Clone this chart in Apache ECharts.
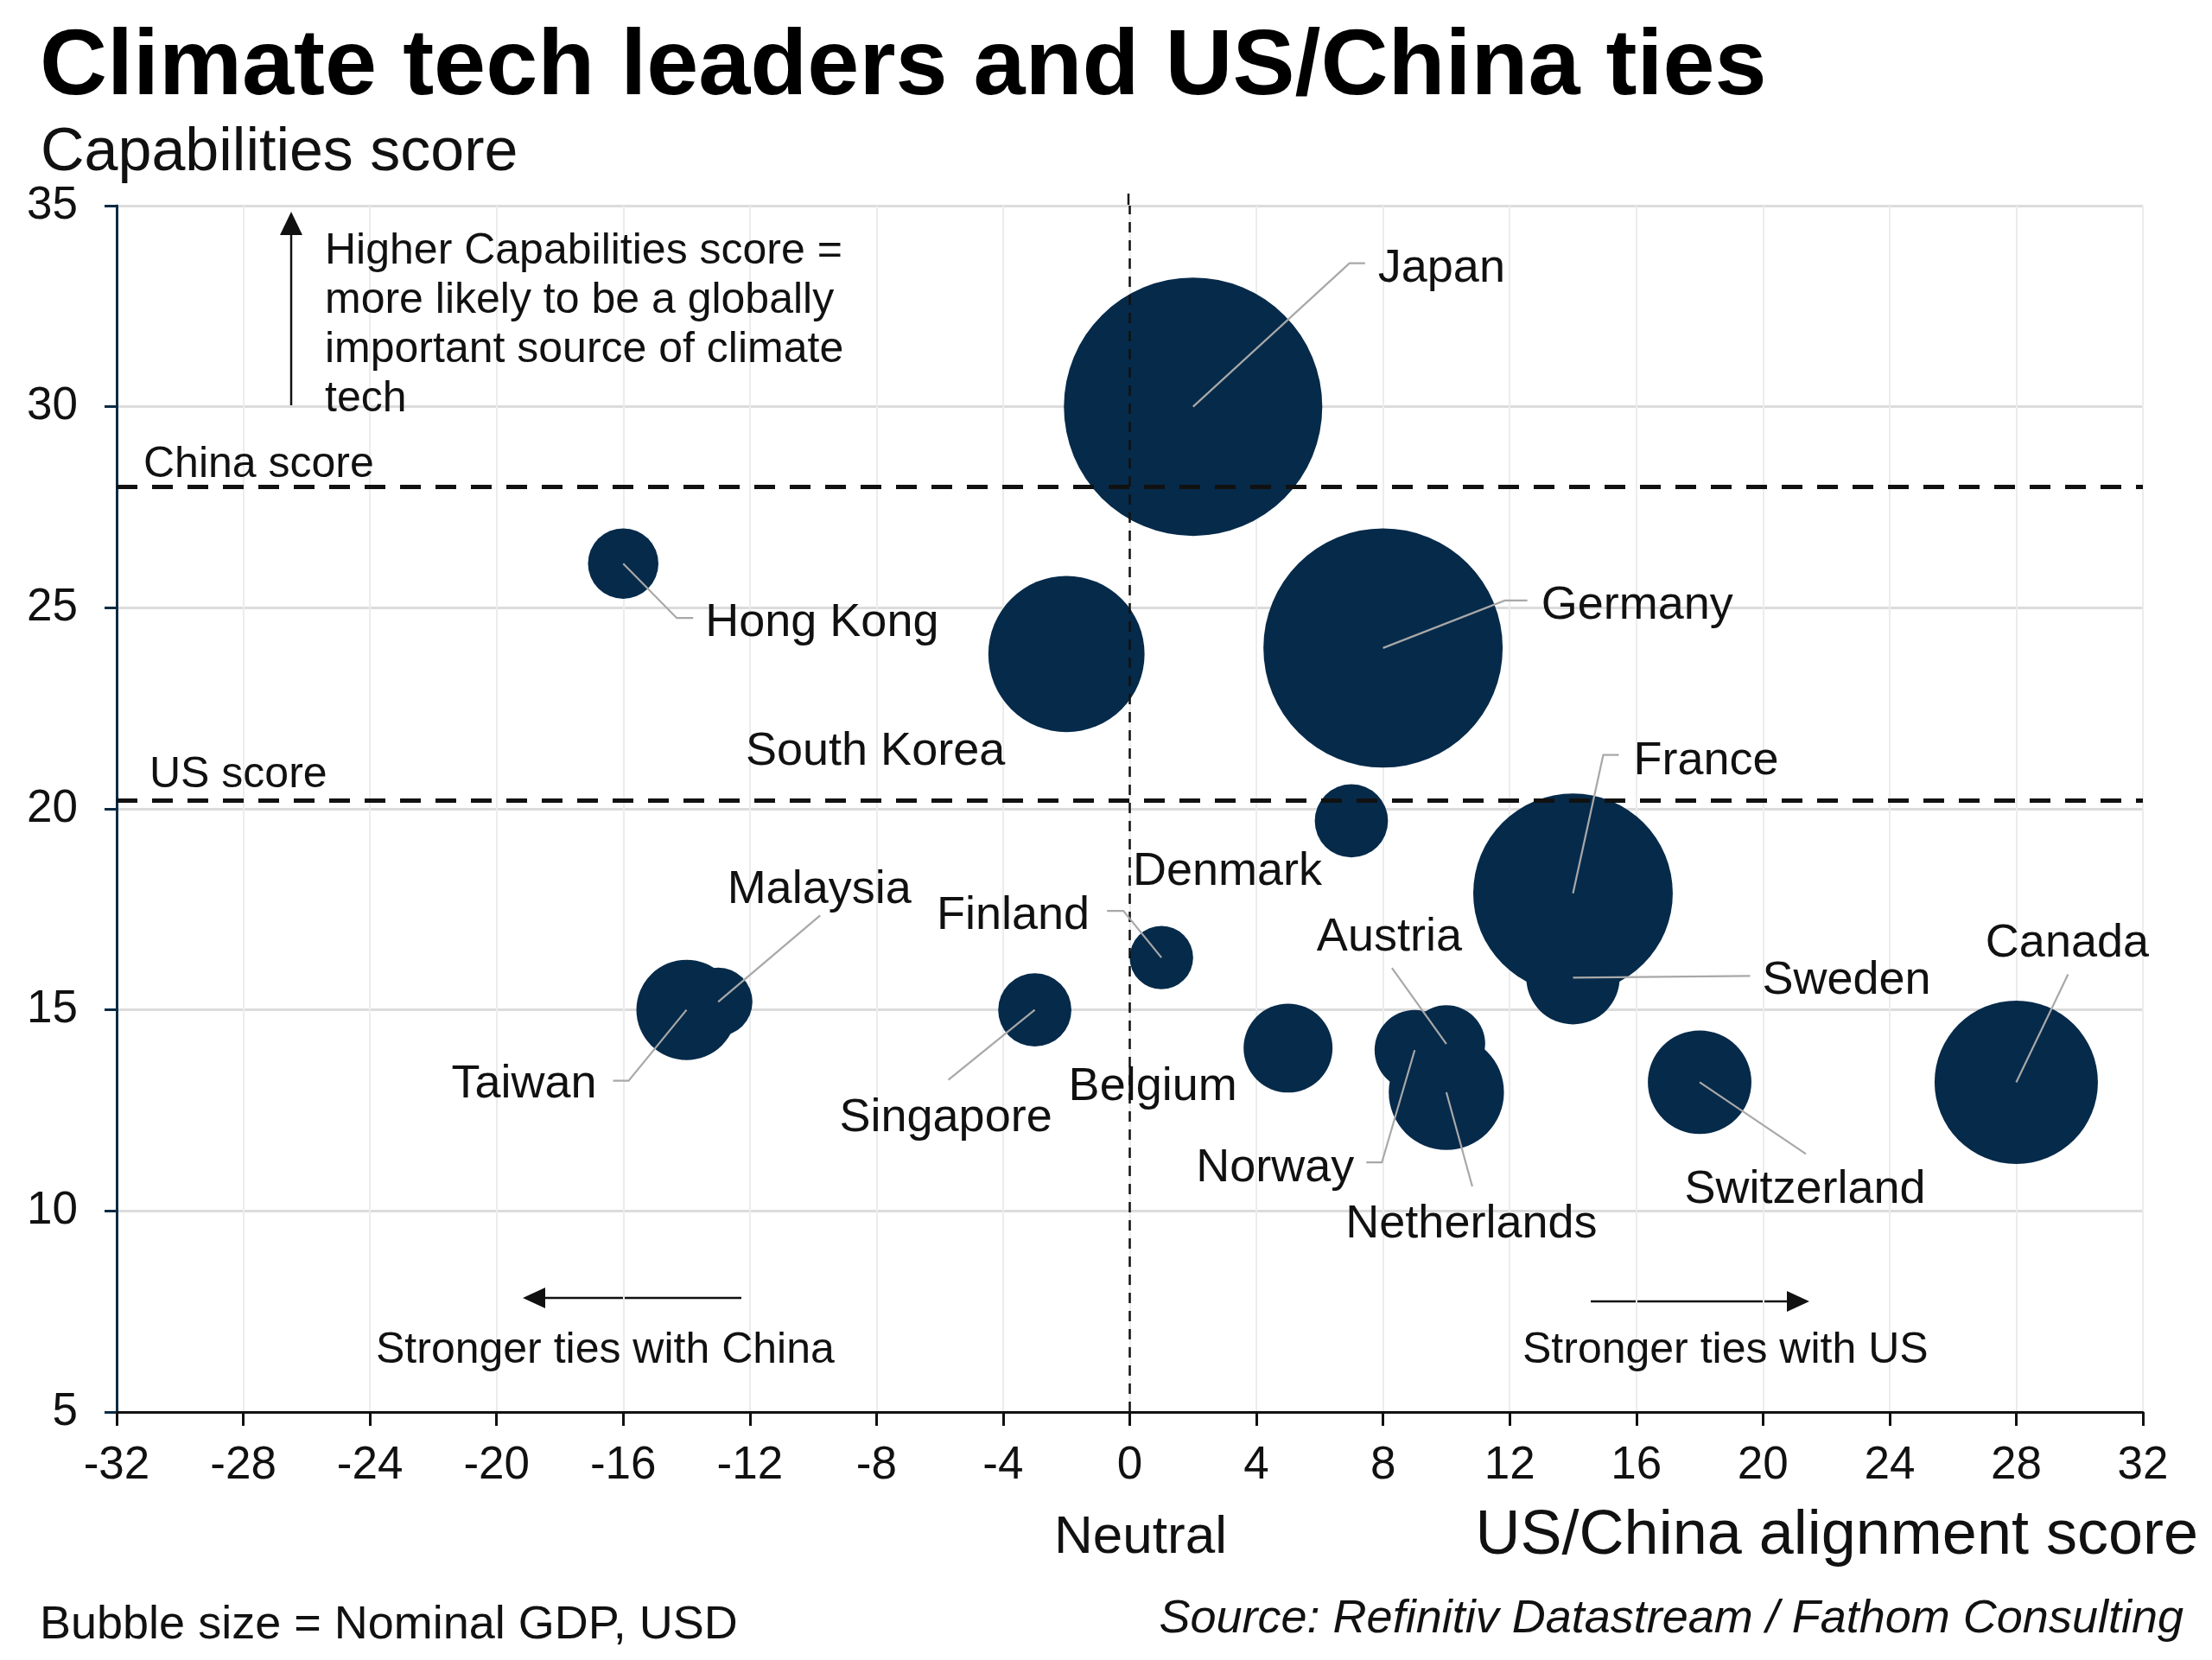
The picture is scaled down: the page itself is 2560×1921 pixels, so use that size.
<!DOCTYPE html>
<html>
<head>
<meta charset="utf-8">
<script src="https://cdn.jsdelivr.net/npm/echarts@6/dist/echarts.min.js"></script>
<style>
html,body{margin:0;padding:0;background:#fff;}
#chart{width:2560px;height:1921px;}
</style>
</head>
<body>
<div id="chart"></div>
<script>
// ---------------- DATA ----------------
const countries = ['Japan','Germany','France','Canada','South Korea','Netherlands','Switzerland','Taiwan','Sweden','Belgium','Norway','Austria','Denmark','Singapore','Hong Kong','Malaysia','Finland'];
const alignment = [2, 8, 14, 28, -2, 10, 18, -14, 14, 5, 9, 10, 7, -3, -16, -13, 1];
const capabilities = [30, 24, 17.9, 13.2, 23.85, 12.95, 13.2, 15, 15.8, 14.05, 14.0, 14.15, 19.7, 15.0, 26.1, 15.2, 16.3];
const gdpTrillionUSD = [4.98, 4.27, 2.97, 1.99, 1.82, 0.99, 0.80, 0.75, 0.65, 0.59, 0.48, 0.45, 0.40, 0.40, 0.37, 0.35, 0.30];
const chinaScore = 28;
const usScore = 20.2;
const neutralScore = 0;
const xTicks = {min: -32, max: 32, interval: 4};
const yTicks = {min: 5, max: 35, interval: 5};

// ---------------- LABEL LAYOUT (pixel offsets from bubble centre) ----------------
const labelLayout = {
  'Japan':       {line: [[181,-166],[199,-166]], text: [214,-165], align: 'left'},
  'Germany':     {line: [[141,-55],[167,-55]],   text: [183,-54],  align: 'left'},
  'France':      {line: [[35,-160],[53,-160]],   text: [70,-158],  align: 'left'},
  'Hong Kong':   {line: [[62,63],[81,63]],       text: [95,64],    align: 'left'},
  'South Korea': {line: null,                    text: [-71,108],  align: 'right'},
  'Denmark':     {line: null,                    text: [-34,54],   align: 'right'},
  'Finland':     {line: [[-44,-54],[-63,-54]],   text: [-83,-53],  align: 'right'},
  'Malaysia':    {line: [[118,-100]],            text: [117,-134], align: 'center'},
  'Taiwan':      {line: [[-67,82],[-85,82]],     text: [-104,81],  align: 'right'},
  'Singapore':   {line: [[-100,81]],             text: [-103,120], align: 'center'},
  'Belgium':     {line: null,                    text: [-59,40],   align: 'right'},
  'Austria':     {line: [[-63,-88]],             text: [-66,-128], align: 'center'},
  'Norway':      {line: [[-38,130],[-56,130]],   text: [-70,132],  align: 'right'},
  'Netherlands': {line: [[30,109]],              text: [29,148],   align: 'center'},
  'Sweden':      {line: [[205,-2]],              text: [219,-1],   align: 'left'},
  'Switzerland': {line: [[123,83]],              text: [122,120],  align: 'center'},
  'Canada':      {line: [[60,-125]],             text: [59,-165],  align: 'center'}
};

const FONT = "'Liberation Sans', Arial, Helvetica, sans-serif";
const BUBBLE = '#062a4a';

const pointData = countries.map((c, i) => [alignment[i], capabilities[i], gdpTrillionUSD[i], c]);

const chart = echarts.init(document.getElementById('chart'), null, {renderer: 'canvas'});

function txt(text, x, y, size, opts) {
  opts = opts || {};
  return {
    type: 'text', silent: true, z: 100,
    style: {
      text: text, x: x, y: y + (opts.noShift ? 0 : Math.round(size * 0.07)),
      font: (opts.style || '') + ' ' + (opts.weight || 'normal') + ' ' + size + 'px ' + FONT,
      fill: opts.color || '#111',
      textAlign: opts.align || 'left',
      textVerticalAlign: opts.valign || 'middle',
      lineHeight: opts.lineHeight
    }
  };
}

const option = {
  backgroundColor: '#ffffff',
  animation: false,
  grid: {left: 135, right: 80, top: 238, bottom: 287, containLabel: false},
  xAxis: {
    type: 'value', min: xTicks.min, max: xTicks.max, interval: xTicks.interval,
    axisLine: {show: true, onZero: false, lineStyle: {color: '#111', width: 3}},
    axisTick: {show: true, length: 16, lineStyle: {color: '#111', width: 3}},
    axisLabel: {fontSize: 53, fontFamily: FONT, color: '#111', margin: 36, lineHeight: 53},
    splitLine: {show: true, lineStyle: {color: '#ececec', width: 2}}
  },
  yAxis: {
    type: 'value', min: yTicks.min, max: yTicks.max, interval: yTicks.interval,
    axisLine: {show: true, onZero: false, lineStyle: {color: '#0b2b45', width: 3}},
    axisTick: {show: true, length: 14, lineStyle: {color: '#0b2b45', width: 3}},
    axisLabel: {fontSize: 53, fontFamily: FONT, color: '#111', margin: 45},
    splitLine: {show: true, lineStyle: {color: '#dcdcdc', width: 3}}
  },
  series: [
    {
      type: 'scatter',
      data: pointData,
      symbolSize: function (v) { return 134 * Math.sqrt(v[2]); },
      itemStyle: {color: BUBBLE, opacity: 1},
      silent: true,
      z: 3,
      markLine: {
        silent: true,
        symbol: ['none', 'none'],
        animation: false,
        data: [
          {yAxis: chinaScore, lineStyle: {type: [24, 17], width: 5, color: '#111'},
           label: {show: true, formatter: 'China score', position: 'insideStartTop', distance: [31, 1],
                   fontSize: 50, fontFamily: FONT, color: '#111', lineHeight: 50}},
          {yAxis: usScore, lineStyle: {type: [24, 17], width: 5, color: '#111'},
           label: {show: true, formatter: 'US score', position: 'insideStartTop', distance: [38, 4],
                   fontSize: 50, fontFamily: FONT, color: '#111', lineHeight: 50}},
          {xAxis: neutralScore, lineStyle: {type: [12, 9], width: 2.5, color: '#111'},
           label: {show: false}}
        ]
      }
    },
    {
      type: 'custom',
      data: pointData,
      z: 10,
      silent: true,
      clip: false,
      renderItem: function (params, api) {
        const i = params.dataIndex;
        const c = api.coord([api.value(0), api.value(1)]);
        const lay = labelLayout[countries[i]];
        const children = [];
        if (lay.line) {
          const pts = [c].concat(lay.line.map(p => [c[0] + p[0], c[1] + p[1]]));
          children.push({type: 'polyline', shape: {points: pts},
            style: {stroke: '#a8a8a8', lineWidth: 2.2, fill: 'none'}});
        }
        children.push({type: 'text', style: {
          text: countries[i], x: c[0] + lay.text[0], y: c[1] + lay.text[1] + 5,
          textAlign: lay.align, textVerticalAlign: 'middle',
          font: '54px ' + FONT, fill: '#111'
        }});
        return {type: 'group', children: children};
      }
    }
  ],
  graphic: [
    txt('Climate tech leaders and US/China ties', 46, 71, 108, {weight: 'bold', color: '#000'}),
    txt('Capabilities score', 47, 173, 70, {color: '#111'}),
    // neutral line extension above plot
    {type: 'line', silent: true, shape: {x1: 1306, y1: 224, x2: 1306, y2: 238}, style: {stroke: '#111', lineWidth: 2.5}},
    // up arrow
    {type: 'line', silent: true, shape: {x1: 337, y1: 470, x2: 337, y2: 262}, style: {stroke: '#111', lineWidth: 2.5}},
    {type: 'polygon', silent: true, shape: {points: [[337, 245], [324, 272], [350, 272]]}, style: {fill: '#111'}},
    txt('Higher Capabilities score =\nmore likely to be a globally\nimportant source of climate\ntech', 376, 259, 50, {valign: 'top', lineHeight: 57}),
    // left arrow
    {type: 'line', silent: true, shape: {x1: 858, y1: 1502, x2: 625, y2: 1502}, style: {stroke: '#111', lineWidth: 2.5}},
    {type: 'polygon', silent: true, shape: {points: [[605, 1502], [631, 1490], [631, 1514]]}, style: {fill: '#111'}},
    txt('Stronger ties with China', 435, 1559, 50),
    // right arrow
    {type: 'line', silent: true, shape: {x1: 1841, y1: 1506, x2: 2075, y2: 1506}, style: {stroke: '#111', lineWidth: 2.5}},
    {type: 'polygon', silent: true, shape: {points: [[2094, 1506], [2068, 1494], [2068, 1518]]}, style: {fill: '#111'}},
    txt('Stronger ties with US', 1762, 1559, 50),
    txt('Neutral', 1320, 1776, 62, {align: 'center'}),
    txt('US/China alignment score', 2544, 1773, 72, {align: 'right'}),
    txt('Bubble size = Nominal GDP, USD', 46, 1877, 54),
    txt('Source: Refinitiv Datastream / Fathom Consulting', 2527, 1870, 54, {align: 'right', style: 'italic'})
  ]
};

chart.setOption(option);
</script>
</body>
</html>
